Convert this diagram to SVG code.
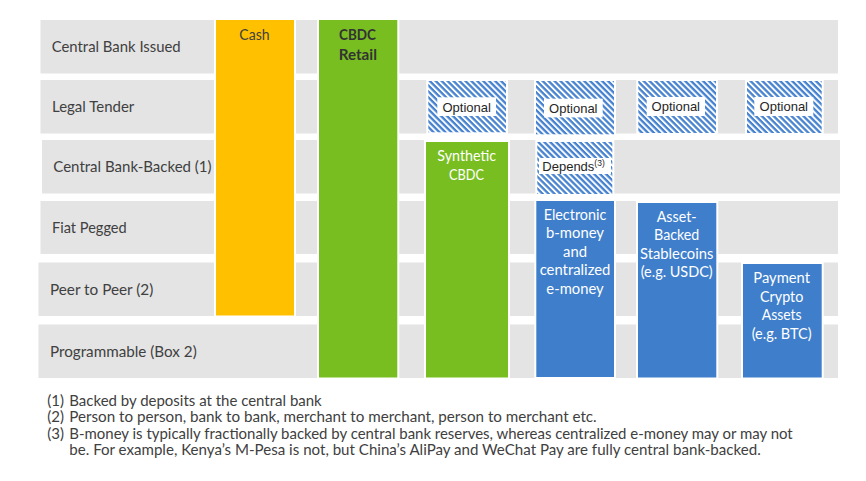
<svg xmlns="http://www.w3.org/2000/svg" width="866" height="481" viewBox="0 0 866 481">
<defs>
<pattern id="hatch" patternUnits="userSpaceOnUse" width="4.2" height="4.2" patternTransform="rotate(45)">
<rect width="4.2" height="4.2" fill="#ffffff"/>
<rect width="4.2" height="2.3" fill="#4682cf"/>
</pattern>
</defs>
<style>
.row{fill:#e4e4e4}
.lbl{font-family:Lato,"Liberation Sans",sans-serif;font-size:15px;fill:#404040}
.col{stroke:#ffffff;stroke-width:2}
.ctxt{font-family:Lato,"Liberation Sans",sans-serif;font-size:14.5px;text-anchor:middle}
.w{fill:#ffffff}
.hat{fill:url(#hatch);stroke:#ffffff;stroke-width:2}
.opt{font-family:"Liberation Sans",Arial,sans-serif;font-size:13px;fill:#262626;text-anchor:middle}
.dep{font-family:"Liberation Sans",Arial,sans-serif;font-size:13px;fill:#262626;text-anchor:start}
.fn{font-family:Lato,"Liberation Sans",sans-serif;font-size:15px;fill:#404040}
</style>
<rect width="866" height="481" fill="#ffffff"/>
<g id="rows">
<rect class="row" x="40.5" y="20" width="797.5" height="53.5"/>
<rect class="row" x="40.5" y="80" width="797.5" height="53.5"/>
<rect class="row" x="42" y="140" width="798" height="53.5"/>
<rect class="row" x="40.5" y="201" width="797.5" height="53"/>
<rect class="row" x="38.5" y="262.5" width="799.5" height="53.5"/>
<rect class="row" x="38.5" y="324.5" width="799.5" height="53.5"/>
</g>
<g id="row-labels">
<text class="lbl" x="51.7" y="52" textLength="129" lengthAdjust="spacingAndGlyphs">Central Bank Issued</text>
<text class="lbl" x="52" y="112" textLength="82.3" lengthAdjust="spacingAndGlyphs">Legal Tender</text>
<text class="lbl" x="53.3" y="172" textLength="158.3" lengthAdjust="spacingAndGlyphs">Central Bank-Backed (1)</text>
<text class="lbl" x="52" y="233" textLength="74.7" lengthAdjust="spacingAndGlyphs">Fiat Pegged</text>
<text class="lbl" x="50" y="295" textLength="103.3" lengthAdjust="spacingAndGlyphs">Peer to Peer (2)</text>
<text class="lbl" x="50" y="357" textLength="146.7" lengthAdjust="spacingAndGlyphs">Programmable (Box 2)</text>
</g>
<g id="cash">
<rect class="col" x="215" y="19" width="80" height="297.5" fill="#ffc000"/>
<text class="ctxt" x="254.5" y="39.5" fill="#404040" textLength="30.3" lengthAdjust="spacingAndGlyphs">Cash</text>
</g>
<g id="cbdc-retail">
<rect class="col" x="318" y="19" width="80.3" height="359.5" fill="#78be21"/>
<text class="ctxt" x="357.5" y="39.5" fill="#333333" font-weight="bold" textLength="37" lengthAdjust="spacingAndGlyphs">CBDC</text>
<text class="ctxt" x="357.8" y="59.5" fill="#333333" font-weight="bold" textLength="38.3" lengthAdjust="spacingAndGlyphs">Retail</text>
</g>
<g id="synthetic-cbdc">
<rect class="col" x="425" y="141" width="84" height="237.5" fill="#78be21"/>
<text class="ctxt w" x="466.7" y="160.5" textLength="58.7" lengthAdjust="spacingAndGlyphs">Synthetic</text>
<text class="ctxt w" x="466.5" y="179.5" textLength="35" lengthAdjust="spacingAndGlyphs">CBDC</text>
</g>
<g id="electronic">
<rect class="col" x="535.3" y="200" width="79.7" height="178" fill="#3e7ecb"/>
<text class="ctxt w" x="575" y="219.5" textLength="62.7" lengthAdjust="spacingAndGlyphs">Electronic</text>
<text class="ctxt w" x="575" y="238" textLength="58" lengthAdjust="spacingAndGlyphs">b-money</text>
<text class="ctxt w" x="575" y="256.5" textLength="24" lengthAdjust="spacingAndGlyphs">and</text>
<text class="ctxt w" x="575" y="275" textLength="70.7" lengthAdjust="spacingAndGlyphs">centralized</text>
<text class="ctxt w" x="575" y="293.5" textLength="57.3" lengthAdjust="spacingAndGlyphs">e-money</text>
</g>
<g id="stablecoins">
<rect class="col" x="637" y="202" width="80.3" height="176.5" fill="#3e7ecb"/>
<text class="ctxt w" x="676.7" y="221.5" textLength="40" lengthAdjust="spacingAndGlyphs">Asset-</text>
<text class="ctxt w" x="676.7" y="240" textLength="45.3" lengthAdjust="spacingAndGlyphs">Backed</text>
<text class="ctxt w" x="676.7" y="258.5" textLength="73.3" lengthAdjust="spacingAndGlyphs">Stablecoins</text>
<text class="ctxt w" x="676.7" y="277" textLength="72" lengthAdjust="spacingAndGlyphs">(e.g. USDC)</text>
</g>
<g id="crypto">
<rect class="col" x="742" y="263" width="80.7" height="115.5" fill="#3e7ecb"/>
<text class="ctxt w" x="781.7" y="282.5" textLength="56.7" lengthAdjust="spacingAndGlyphs">Payment</text>
<text class="ctxt w" x="781.7" y="301.5" textLength="43.3" lengthAdjust="spacingAndGlyphs">Crypto</text>
<text class="ctxt w" x="781.7" y="320" textLength="40" lengthAdjust="spacingAndGlyphs">Assets</text>
<text class="ctxt w" x="781.7" y="338.5" textLength="60" lengthAdjust="spacingAndGlyphs">(e.g. BTC)</text>
</g>
<g id="optional-1">
<rect class="hat" x="427.3" y="80" width="79.7" height="53.3"/>
<rect class="w" x="437.3" y="97.3" width="58.7" height="18.7"/>
<text class="opt" x="466.7" y="111.5">Optional</text>
</g>
<g id="optional-2">
<rect class="hat" x="535" y="80" width="80" height="55.3"/>
<rect class="w" x="544" y="98.7" width="58.7" height="18.7"/>
<text class="opt" x="573.3" y="112.5">Optional</text>
</g>
<g id="optional-3">
<rect class="hat" x="637.3" y="80" width="79.7" height="54"/>
<rect class="w" x="646.7" y="97" width="58.3" height="19"/>
<text class="opt" x="675.8" y="111.3">Optional</text>
</g>
<g id="optional-4">
<rect class="hat" x="746" y="80" width="76.7" height="54"/>
<rect class="w" x="754.3" y="97" width="59" height="19"/>
<text class="opt" x="783.8" y="111.3">Optional</text>
</g>
<g id="depends">
<rect class="hat" x="536.3" y="141" width="77" height="54"/>
<rect class="w" x="539" y="158" width="72" height="16"/>
<text class="dep" x="542.3" y="171.3">Depends<tspan font-size="8.5" dy="-5">(3)</tspan></text>
</g>
<g id="connectors"></g>
<g id="footnotes">
<text class="fn" x="47.3" y="405.7">(1)</text>
<text class="fn" x="69.3" y="405.7" textLength="252.4" lengthAdjust="spacingAndGlyphs">Backed by deposits at the central bank</text>
<text class="fn" x="47.3" y="422.3">(2)</text>
<text class="fn" x="69.3" y="422.3" textLength="527.4" lengthAdjust="spacingAndGlyphs">Person to person, bank to bank, merchant to merchant, person to merchant etc.</text>
<text class="fn" x="47.3" y="438.8">(3)</text>
<text class="fn" x="69.3" y="438.8" textLength="723.4" lengthAdjust="spacingAndGlyphs">B-money is typically fractionally backed by central bank reserves, whereas centralized e-money may or may not</text>
<text class="fn" x="69.3" y="455.2" textLength="691.4" lengthAdjust="spacingAndGlyphs">be. For example, Kenya’s M-Pesa is not, but China’s AliPay and WeChat Pay are fully central bank-backed.</text>
</g>
</svg>
